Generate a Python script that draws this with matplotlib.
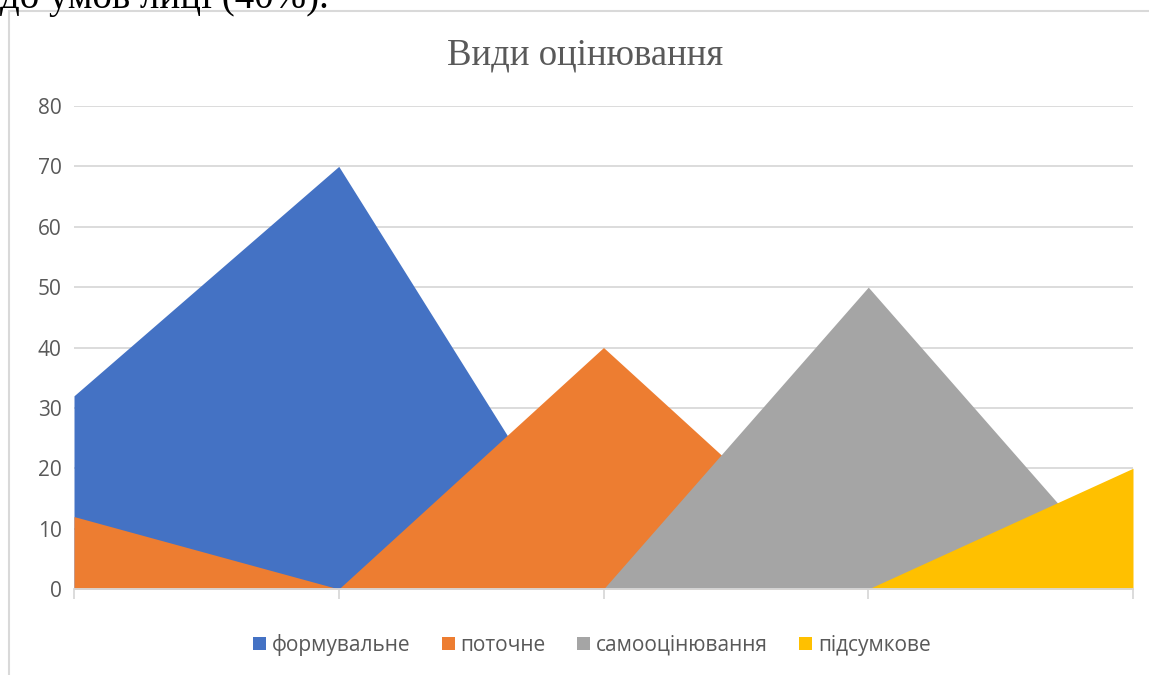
import matplotlib.pyplot as plt
from matplotlib.patches import Rectangle

# categories (no labels shown on the axis)
positions = [0, 1, 2, 3, 4]
series_names = ["формувальне", "поточне", "самооцінювання", "підсумкове"]
formuvalne = [32, 70, 0, 0, 0]
potochne = [12, 0, 40, 0, 0]
samoocin = [0, 0, 0, 50, 0]
pidsumk = [0, 0, 0, 0, 20]
colors = ["#4472C4", "#ED7D31", "#A5A5A5", "#FFC000"]
yticks = [0, 10, 20, 30, 40, 50, 60, 70, 80]

fig = plt.figure(figsize=(11.49, 6.75), dpi=100)
ax = fig.add_axes([74 / 1149, 1 - 589 / 675, (1133 - 74) / 1149, (589 - 106) / 675])

for vals, name, c in zip([formuvalne, potochne, samoocin, pidsumk], series_names, colors):
    ax.fill_between(positions, vals, 0, color=c, lw=0, label=name, zorder=2)

ax.set_xlim(0, 4)
ax.set_ylim(0, 80)
ax.set_yticks(yticks)
ax.set_yticklabels([str(v) for v in yticks], fontname="Open Sans", fontsize=15, color="#595959")
ax.yaxis.grid(True, color="#d9d9d9", lw=1.3, zorder=0)
ax.tick_params(axis="y", length=0, pad=9)
ax.set_xticks(positions)
ax.set_xticklabels([])
ax.tick_params(axis="x", length=7, color="#d9d9d9", width=1.3, direction="out")
for s in ["top", "right", "left"]:
    ax.spines[s].set_visible(False)
ax.spines["bottom"].set_color("#d9d9d9")
ax.spines["bottom"].set_linewidth(1.3)
ax.spines["bottom"].set_zorder(3)

fig.text(585 / 1149, 1 - 55 / 675, "Види оцінювання", ha="center", va="center",
         fontname="Liberation Serif", fontsize=26.5, color="#595959")

leg = fig.legend(loc="center", bbox_to_anchor=(592 / 1149, 1 - 645 / 675), ncol=4,
                 frameon=False, handlelength=0.6, handleheight=0.6, handletextpad=0.3,
                 columnspacing=1.5, prop={"family": "Open Sans", "size": 15})
for t in leg.get_texts():
    t.set_color("#595959")

# chart frame and clipped document text above it
fig.patches.append(Rectangle((9 / 1149, -0.1), 1.2, 1 - 11 / 675 + 0.1,
                             transform=fig.transFigure, fill=False,
                             edgecolor="#d9d9d9", lw=1.5))
fig.text(0, 1 - 8 / 675, "до умов лиці (40%).", ha="left", va="baseline",
         fontname="Liberation Serif", fontsize=28, color="black")

fig.savefig("out.png", dpi=100)
